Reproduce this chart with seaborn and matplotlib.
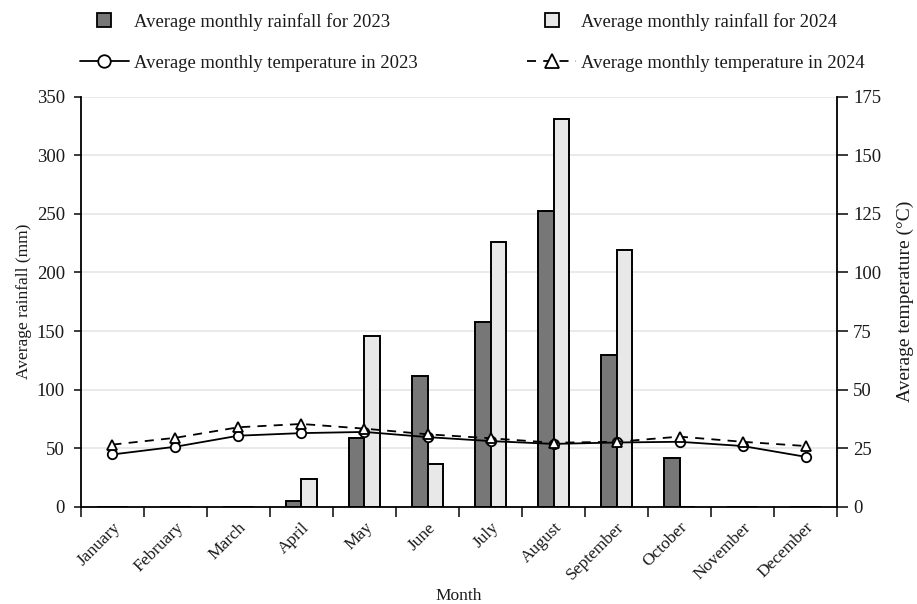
import numpy as np
import pandas as pd
import matplotlib
matplotlib.use("Agg")
import matplotlib.pyplot as plt
from matplotlib.lines import Line2D
from matplotlib.ticker import FixedLocator, MultipleLocator
import seaborn as sns

# ---- data -------------------------------------------------------------
months = ["January", "February", "March", "April", "May", "June",
          "July", "August", "September", "October", "November", "December"]
rain_2023 = [0, 0, 0, 5, 59, 112, 158, 252, 130, 42, 0, 0]
rain_2024 = [0, 0, 0, 24, 146, 37, 226, 331, 219, 0, 0, 0]
temp_2023 = [22.4, 25.7, 30.4, 31.5, 32.0, 29.8, 28.1, 26.9, 27.5, 27.8, 26.0, 21.4]
temp_2024 = [26.6, 29.5, 34.0, 35.4, 33.4, 31.0, 29.3, 27.4, 27.8, 30.0, 27.8, 26.0]
years = ["2023", "2024"]
rain_labels = ["Average monthly rainfall for 2023", "Average monthly rainfall for 2024"]
temp_labels = ["Average monthly temperature in 2023", "Average monthly temperature in 2024"]

# ---- style ------------------------------------------------------------
sns.set_style("ticks")
plt.rcParams["font.family"] = ["Liberation Serif", "DejaVu Serif"]
ink = "#1a1a1a"
plt.rcParams["text.color"] = ink
plt.rcParams["axes.labelcolor"] = ink
plt.rcParams["xtick.color"] = ink
plt.rcParams["ytick.color"] = ink

TICK_FS = 13.5
dark, light = "#777777", "#e8e8e8"

rain_df = pd.DataFrame({
    "month": months * 2,
    "year": [years[0]] * 12 + [years[1]] * 12,
    "rainfall": rain_2023 + rain_2024,
})

fig = plt.figure(figsize=(9.17, 6.04), dpi=100)
ax = fig.add_axes([0.0883, 0.1606, 0.8245, 0.6796])

sns.barplot(data=rain_df, x="month", y="rainfall", hue="year",
            palette={years[0]: dark, years[1]: light},
            edgecolor="black", linewidth=1.4, width=0.48,
            legend=False, ax=ax, zorder=2)

ax.set_xlim(-0.5, len(months) - 0.5)
ax.set_ylim(0, 350)
ax.yaxis.set_major_locator(MultipleLocator(50))
ax.grid(axis="y", color="#e6e6e6", linewidth=1.2)
ax.set_axisbelow(True)

# month labels at the centres, tick marks on the category boundaries
x_pos = np.arange(len(months))
ax.set_xticks(x_pos)
ax.set_xticklabels(months, rotation=45, ha="right", rotation_mode="anchor")
ax.xaxis.set_minor_locator(FixedLocator(np.arange(len(months) + 1) - 0.5))
ax.tick_params(axis="x", which="major", length=0, pad=9, labelsize=12.5)
ax.tick_params(axis="x", which="minor", length=7.5, width=1.2, direction="out")
ax.tick_params(axis="y", length=5, width=1.2, direction="out", pad=6.5,
               labelsize=TICK_FS)

ax.set_xlabel("Month", fontsize=12.5)
ax.xaxis.set_label_coords(0.5, -0.197)
ax.set_ylabel("Average rainfall (mm)", fontsize=12.5, labelpad=3.5)

# ---- temperature on the secondary axis ---------------------------------
ax2 = ax.twinx()
sns.lineplot(x=x_pos, y=temp_2023, ax=ax2, color="black", linewidth=1.3,
             marker="o", markersize=6.8, markerfacecolor="white",
             markeredgecolor="black", markeredgewidth=1.3, zorder=5)
sns.lineplot(x=x_pos, y=temp_2024, ax=ax2, color="black", linewidth=1.3,
             linestyle=(0, (5, 4)), marker="^", markersize=7.5,
             markerfacecolor="white", markeredgecolor="black",
             markeredgewidth=1.3, zorder=5)
ax2.set_ylim(0, 175)
ax2.yaxis.set_major_locator(MultipleLocator(25))
ax2.tick_params(axis="y", length=8, width=1.2, direction="out", pad=3.5,
                labelsize=TICK_FS)
ax2.set_ylabel("Average temperature (°C)", fontsize=14, labelpad=11)

for a in (ax, ax2):
    for s in a.spines.values():
        s.set_linewidth(1.3)
        s.set_color("black")
    a.spines["top"].set_visible(False)
ax.spines["right"].set_visible(False)
ax2.spines["left"].set_visible(False)
ax2.spines["bottom"].set_visible(False)

# ---- legend -----------------------------------------------------------
handles = [
    Line2D([], [], linestyle="none", marker="s", markersize=10,
           markerfacecolor=dark, markeredgecolor="black", markeredgewidth=1.3),
    Line2D([], [], color="black", linewidth=1.3, marker="o", markersize=9,
           markerfacecolor="white", markeredgecolor="black", markeredgewidth=1.3),
    Line2D([], [], linestyle="none", marker="s", markersize=10,
           markerfacecolor=light, markeredgecolor="black", markeredgewidth=1.3),
    Line2D([], [], color="black", linewidth=1.3, linestyle=(0, (5, 4)),
           marker="^", markersize=10, markerfacecolor="white",
           markeredgecolor="black", markeredgewidth=1.3),
]
labels = [rain_labels[0], temp_labels[0], rain_labels[1], temp_labels[1]]
fig.legend(handles, labels, ncol=2, loc="upper left",
           bbox_to_anchor=(0.0872, 0.979), frameon=False, fontsize=13.4,
           handlelength=2.63, handletextpad=0.27, columnspacing=5.9,
           labelspacing=1.3, borderpad=0.0, borderaxespad=0.0)

fig.savefig("out.png", dpi=100)
